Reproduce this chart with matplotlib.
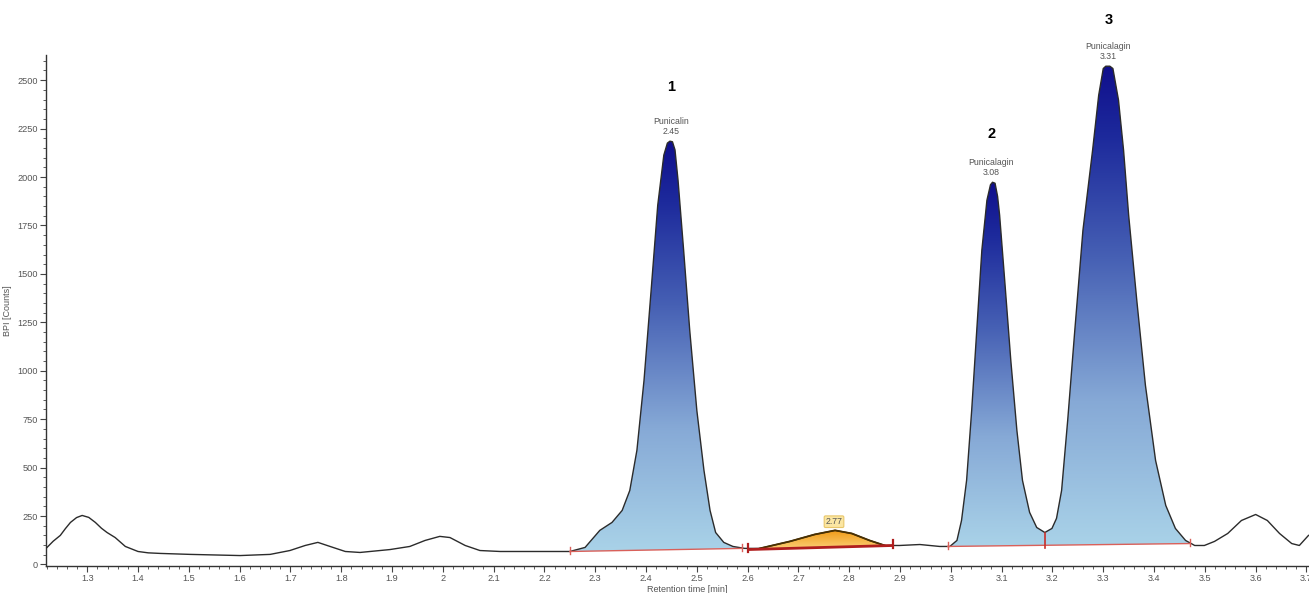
import numpy as np
import matplotlib
matplotlib.use("Agg")
import matplotlib.pyplot as plt
from matplotlib.colors import LinearSegmentedColormap
from matplotlib.ticker import MultipleLocator, FuncFormatter

# ---- chromatogram trace (retention time [min], BPI counts) ----
rt = [1.219, 1.233, 1.247, 1.257, 1.267, 1.279, 1.290, 1.303, 1.316, 1.328,
      1.339, 1.355, 1.375, 1.400, 1.420, 1.444,
      1.503, 1.601, 1.660, 1.699, 1.729, 1.754, 1.778, 1.808, 1.837, 1.896,
      1.935, 1.965, 1.994, 2.014, 2.044, 2.073, 2.113, 2.191, 2.250, 2.280,
      2.309, 2.333, 2.353, 2.368, 2.382, 2.396, 2.410, 2.423, 2.435, 2.442,
      2.447, 2.452, 2.457, 2.463, 2.474, 2.486, 2.500, 2.514, 2.526, 2.537,
      2.553, 2.571, 2.594, 2.624, 2.683, 2.732, 2.772, 2.805, 2.840, 2.870,
      2.899, 2.939, 2.978, 2.998, 3.012, 3.021, 3.031, 3.041, 3.051, 3.061,
      3.071, 3.078, 3.082, 3.087, 3.092, 3.096, 3.106, 3.118, 3.130, 3.141,
      3.155, 3.169, 3.185, 3.199, 3.208, 3.218, 3.230, 3.244, 3.260, 3.279,
      3.291, 3.300, 3.305, 3.313, 3.319, 3.330, 3.340, 3.350, 3.366, 3.383,
      3.403, 3.423, 3.442, 3.462, 3.480, 3.499, 3.519, 3.545, 3.572, 3.600,
      3.623, 3.647, 3.671, 3.686, 3.704]
bpi = [83, 120, 150, 185, 217, 242, 253, 243, 217, 187,
       165, 139, 93, 67, 60, 57,
       52, 46, 52, 72, 98, 114, 93, 67, 62, 77,
       93, 124, 145, 139, 98, 72, 67, 67, 67, 88,
       176, 217, 279, 382, 589, 950, 1415, 1854, 2113, 2175,
       2185, 2182, 2140, 1983, 1622, 1209, 795, 486, 279, 165,
       114, 93, 83, 83, 119, 155, 176, 160, 124, 98,
       98, 103, 93, 93, 124, 227, 434, 795, 1209, 1622,
       1880, 1960, 1973, 1968, 1900, 1803, 1467, 1054, 692, 434,
       269, 191, 165, 186, 238, 382, 744, 1209, 1725, 2138,
       2422, 2560, 2572, 2572, 2560, 2397, 2138, 1803, 1364, 925,
       537, 305, 186, 124, 98, 98, 119, 160, 227, 258,
       227, 160, 108, 98, 150]

# ---- integrated peaks ----
peak_names = ["Punicalin", "Punicalagin", "Punicalagin"]
peak_rt = [2.45, 3.08, 3.31]
peak_numbers = ["1", "2", "3"]
peak_apex = [2185, 1973, 2572]
number_offsets = [34, 30, 28]  # points above apex
# fill segments for the blue peaks: (t0, y0, t1, y1)
blue_segments = [(2.250, 67, 2.589, 83),
                 (2.994, 93, 3.185, 99),
                 (3.185, 99, 3.470, 108)]
blue_baselines = [(2.250, 67, 2.589, 83), (2.994, 93, 3.470, 108)]
drop_rt = 3.185
drop_base = 99
minor_peak_rt = 2.77
minor_apex = 176
minor_baseline = (2.600, 77, 2.886, 98)

rt = np.array(rt)
bpi = np.array(bpi, dtype=float)

fig = plt.figure(figsize=(13.09, 5.93), dpi=100)
ax = fig.add_axes([0.0352, 0.0455, 0.9648, 0.8618])

blue_cmap = LinearSegmentedColormap.from_list(
    "blue", [(0, "#a9d2e8"), (0.3, "#86a9d6"), (0.6, "#4660b4"), (0.85, "#1d2a9c"), (1, "#100f8c")])
orange_cmap = LinearSegmentedColormap.from_list(
    "orange", [(0, "#fcd27a"), (1, "#f09a16")])


def grad_fill(seg, cmap, z=1):
    t0, y0, t1, y1 = seg
    inner = (rt > t0) & (rt < t1)
    tt = np.concatenate([[t0], rt[inner], [t1]])
    yy = np.concatenate([[np.interp(t0, rt, bpi)], bpi[inner], [np.interp(t1, rt, bpi)]])
    bb = y0 + (y1 - y0) * (tt - t0) / (t1 - t0)
    poly = ax.fill_between(tt, bb, yy, facecolor="none", edgecolor="none")
    ytop = yy.max()
    ybot = min(y0, y1)
    grad = np.linspace(0, 1, 256).reshape(-1, 1)
    im = ax.imshow(grad, extent=[t0, t1, ybot, ytop], origin="lower",
                   aspect="auto", cmap=cmap, zorder=z, interpolation="bilinear")
    im.set_clip_path(poly.get_paths()[0], transform=ax.transData)


for seg in blue_segments:
    grad_fill(seg, blue_cmap)
grad_fill(minor_baseline, orange_cmap)

# trace
ax.plot(rt, bpi, color="#2b2b2b", lw=1.0, zorder=3, solid_joinstyle="round")
m = (rt >= minor_baseline[0]) & (rt <= minor_baseline[2])
ax.plot(rt[m], bpi[m], color="#4a3000", lw=1.3, zorder=4)

# baselines
for (t0, y0, t1, y1) in blue_baselines:
    ax.plot([t0, t1], [y0, y1], color="#d9605a", lw=1.0, zorder=4)
    for t, y in [(t0, y0), (t1, y1)]:
        ax.plot([t, t], [y - 15, y + 25], color="#d9605a", lw=1.0, zorder=4)
t0, y0, t1, y1 = minor_baseline
ax.plot([t0, t1], [y0, y1], color="#b01e1e", lw=2.0, zorder=5, solid_capstyle="butt")
for t, y in [(t0, y0), (t1, y1)]:
    ax.plot([t, t], [y - 12, y + 30], color="#b01e1e", lw=1.6, zorder=5)
ax.plot([drop_rt, drop_rt], [np.interp(drop_rt, rt, bpi) - 5, drop_base - 15],
        color="#c8302a", lw=1.2, zorder=5)

label_font = ["Liberation Sans", "DejaVu Sans"]
for name, prt, num, apex, off in zip(peak_names, peak_rt, peak_numbers, peak_apex, number_offsets):
    ax.annotate(f"{name}\n{prt:.2f}", (prt, apex), xytext=(0, 4), textcoords="offset points",
                ha="center", va="bottom", fontsize=6.3, color="#555555",
                linespacing=1.05, annotation_clip=False, family=label_font)
    ax.annotate(num, (prt, apex), xytext=(0, off), textcoords="offset points",
                ha="center", va="bottom", fontsize=10.5, fontweight="bold",
                color="black", annotation_clip=False, family=label_font)

ax.annotate(f"{minor_peak_rt:.2f}", (minor_peak_rt, minor_apex), xytext=(0, 3),
            textcoords="offset points", ha="center", va="bottom", fontsize=6.3,
            color="#555555", family=label_font,
            bbox=dict(boxstyle="round,pad=0.15", fc="#fbe6a2", ec="#e9c76a", lw=0.8),
            zorder=6)

ax.set_xlim(1.219, 3.705)
ax.set_ylim(-8, 2630)

for s in ["top", "right"]:
    ax.spines[s].set_visible(False)
for s in ["left", "bottom"]:
    ax.spines[s].set_color("#333333")
    ax.spines[s].set_linewidth(1.0)

ax.xaxis.set_major_locator(MultipleLocator(0.1))
ax.xaxis.set_minor_locator(MultipleLocator(0.02))
ax.yaxis.set_major_locator(MultipleLocator(250))
ax.yaxis.set_minor_locator(MultipleLocator(50))
ax.xaxis.set_major_formatter(FuncFormatter(lambda v, p: f"{v:.1f}".rstrip("0").rstrip(".")))
ax.tick_params(axis="both", which="major", length=4, width=0.8, color="#444444",
               labelsize=6.6, labelcolor="#555555", pad=2)
ax.tick_params(axis="both", which="minor", length=2, width=0.6, color="#444444")
for lab in ax.get_xticklabels() + ax.get_yticklabels():
    lab.set_family(label_font)

ax.set_xlabel("Retention time [min]", fontsize=6.5, color="#555555", family=label_font)
ax.set_ylabel("BPI [Counts]", fontsize=6.5, color="#555555", family=label_font)
ax.xaxis.set_label_coords(0.508, -0.038)
ax.yaxis.set_label_coords(-0.027, 0.5)

fig.savefig("out.png", dpi=100)
